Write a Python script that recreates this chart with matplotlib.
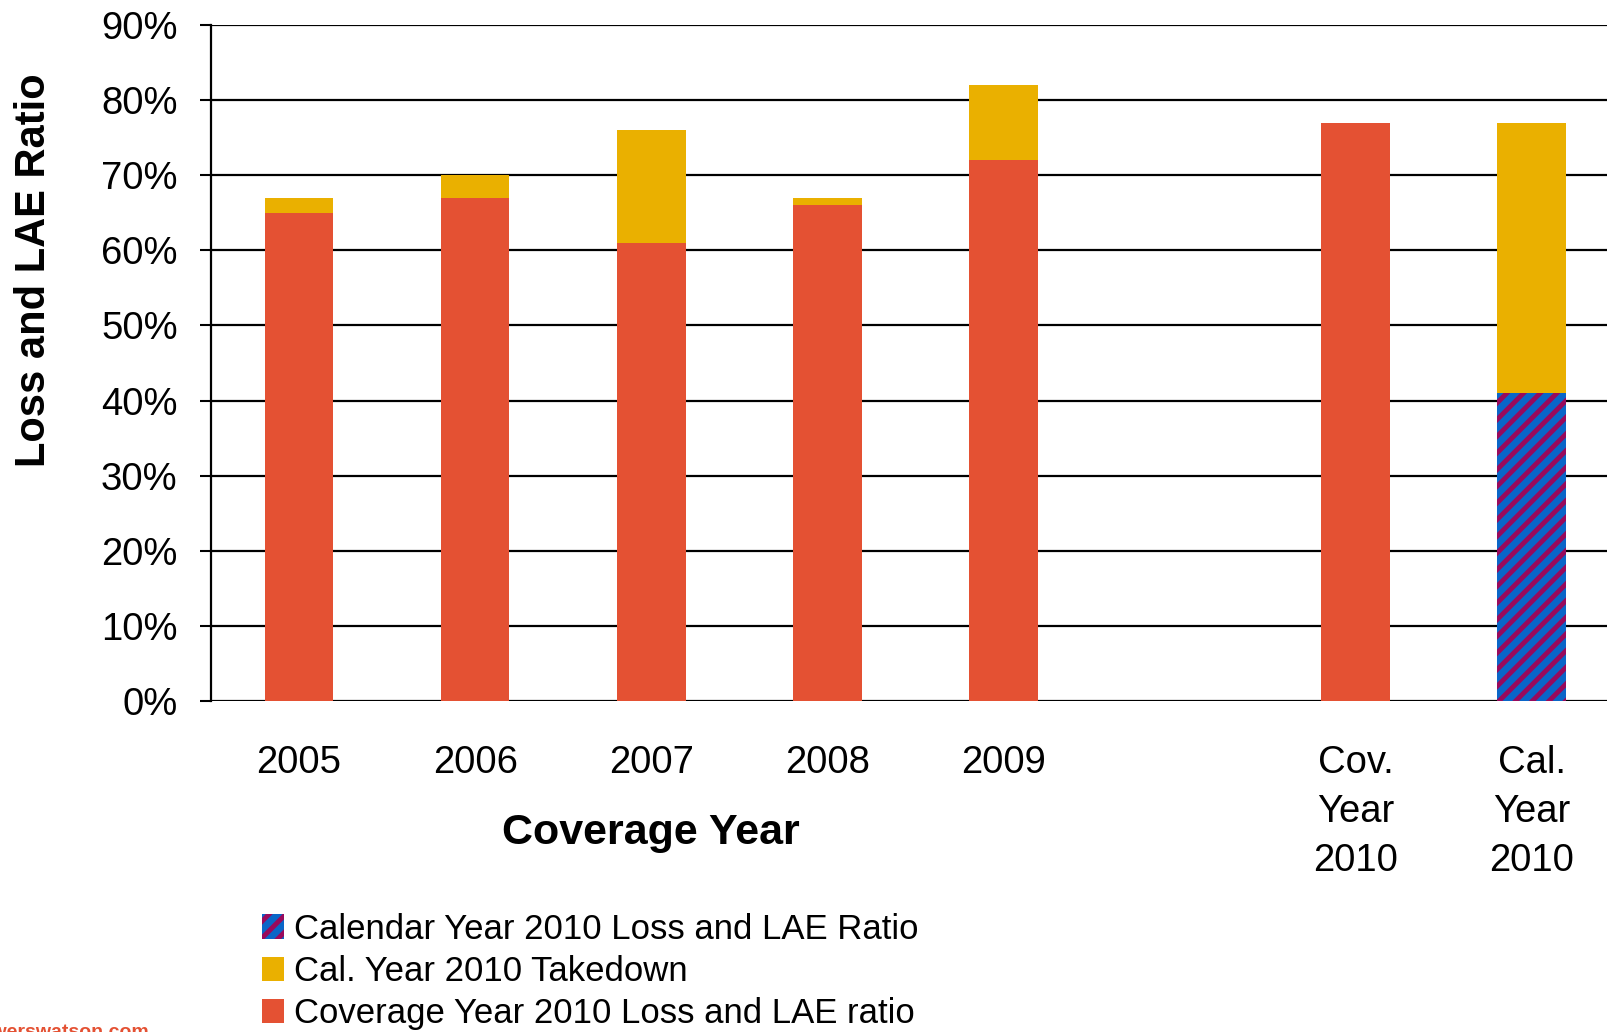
import matplotlib
matplotlib.use("Agg")
import matplotlib.pyplot as plt
from matplotlib.patches import Patch

plt.rcParams['font.family'] = ['Liberation Sans', 'DejaVu Sans']
plt.rcParams['hatch.linewidth'] = 3.5
plt.rcParams['hatch.color'] = '#990A5C'

categories = ["2005", "2006", "2007", "2008", "2009", "Cov.\nYear\n2010", "Cal.\nYear\n2010"]
positions = [0, 1, 2, 3, 4, 6, 7]
coverage_ratio = [65, 67, 61, 66, 72, 77, None]
takedown_total = [67, 70, 76, 67, 82, None, 77]
calendar_ratio = [None, None, None, None, None, None, 41]
yticks = [0, 10, 20, 30, 40, 50, 60, 70, 80, 90]

RED = '#E45133'
YEL = '#EAB000'
BLUE = '#0A66C8'

W, H = 1608, 1032
fig = plt.figure(figsize=(W / 100, H / 100), dpi=100)
ax_left, ax_right = 211, 1608
ax_bottom, ax_top = 701, 25
ax = fig.add_axes([ax_left / W, 1 - ax_bottom / H, (ax_right - ax_left) / W, (ax_bottom - ax_top) / H])

bw = 0.39
for p, c, t, k in zip(positions, coverage_ratio, takedown_total, calendar_ratio):
    base = c if c is not None else k
    if c is not None:
        ax.bar(p, c, width=bw, color=RED, zorder=3)
    if k is not None:
        ax.bar(p, k, width=bw, color=BLUE, hatch='//', edgecolor='#990A5C', linewidth=0, zorder=3)
    if t is not None:
        ax.bar(p, t - base, bottom=base, width=bw, color=YEL, zorder=3)

unit = 176.1
ax.set_xlim(-0.5, -0.5 + (ax_right - ax_left) / unit)
ax.set_ylim(0, 90)
ax.set_yticks(yticks)
ax.set_yticklabels([f"{v}%" for v in yticks], fontsize=27.5)
ax.set_xticks(positions)
ax.set_xticklabels(categories, fontsize=27.5, linespacing=1.45)
ax.tick_params(axis='x', length=0, pad=32)
ax.tick_params(axis='y', length=8, width=1.5, direction='out', pad=16, colors='black')

for v in yticks:
    ax.axhline(v, color='black', linewidth=1.6, zorder=1)
for s in ['top', 'right', 'bottom']:
    ax.spines[s].set_visible(False)
ax.spines['left'].set_linewidth(1.6)
ax.spines['left'].set_zorder(4)

fig.text(34 / W, 1 - 270 / H, "Loss and LAE Ratio", fontsize=30, fontweight='bold',
         rotation=90, ha='center', va='center')
ax.text(2, -17.6, "Coverage Year", fontsize=31, fontweight='bold', ha='center', va='center',
        transform=ax.transData, clip_on=False)

handles = [
    Patch(facecolor=BLUE, hatch='//', edgecolor='#990A5C', linewidth=0, label="Calendar Year 2010 Loss and LAE Ratio"),
    Patch(facecolor=YEL, label="Cal. Year 2010 Takedown"),
    Patch(facecolor=RED, label="Coverage Year 2010 Loss and LAE ratio"),
]
fig.legend(handles=handles, loc='upper left', bbox_to_anchor=(262 / W, 1 - 913 / H), frameon=False,
           fontsize=25, handlelength=0.62, handleheight=0.72, handletextpad=0.3, labelspacing=0.26,
           borderpad=0, borderaxespad=0)

fig.text(149 / W, 1 - 1024 / H, "www.towerswatson.com", color=RED, fontsize=14, fontweight='bold',
         ha='right', va='top')

fig.savefig("out.png", dpi=100)
